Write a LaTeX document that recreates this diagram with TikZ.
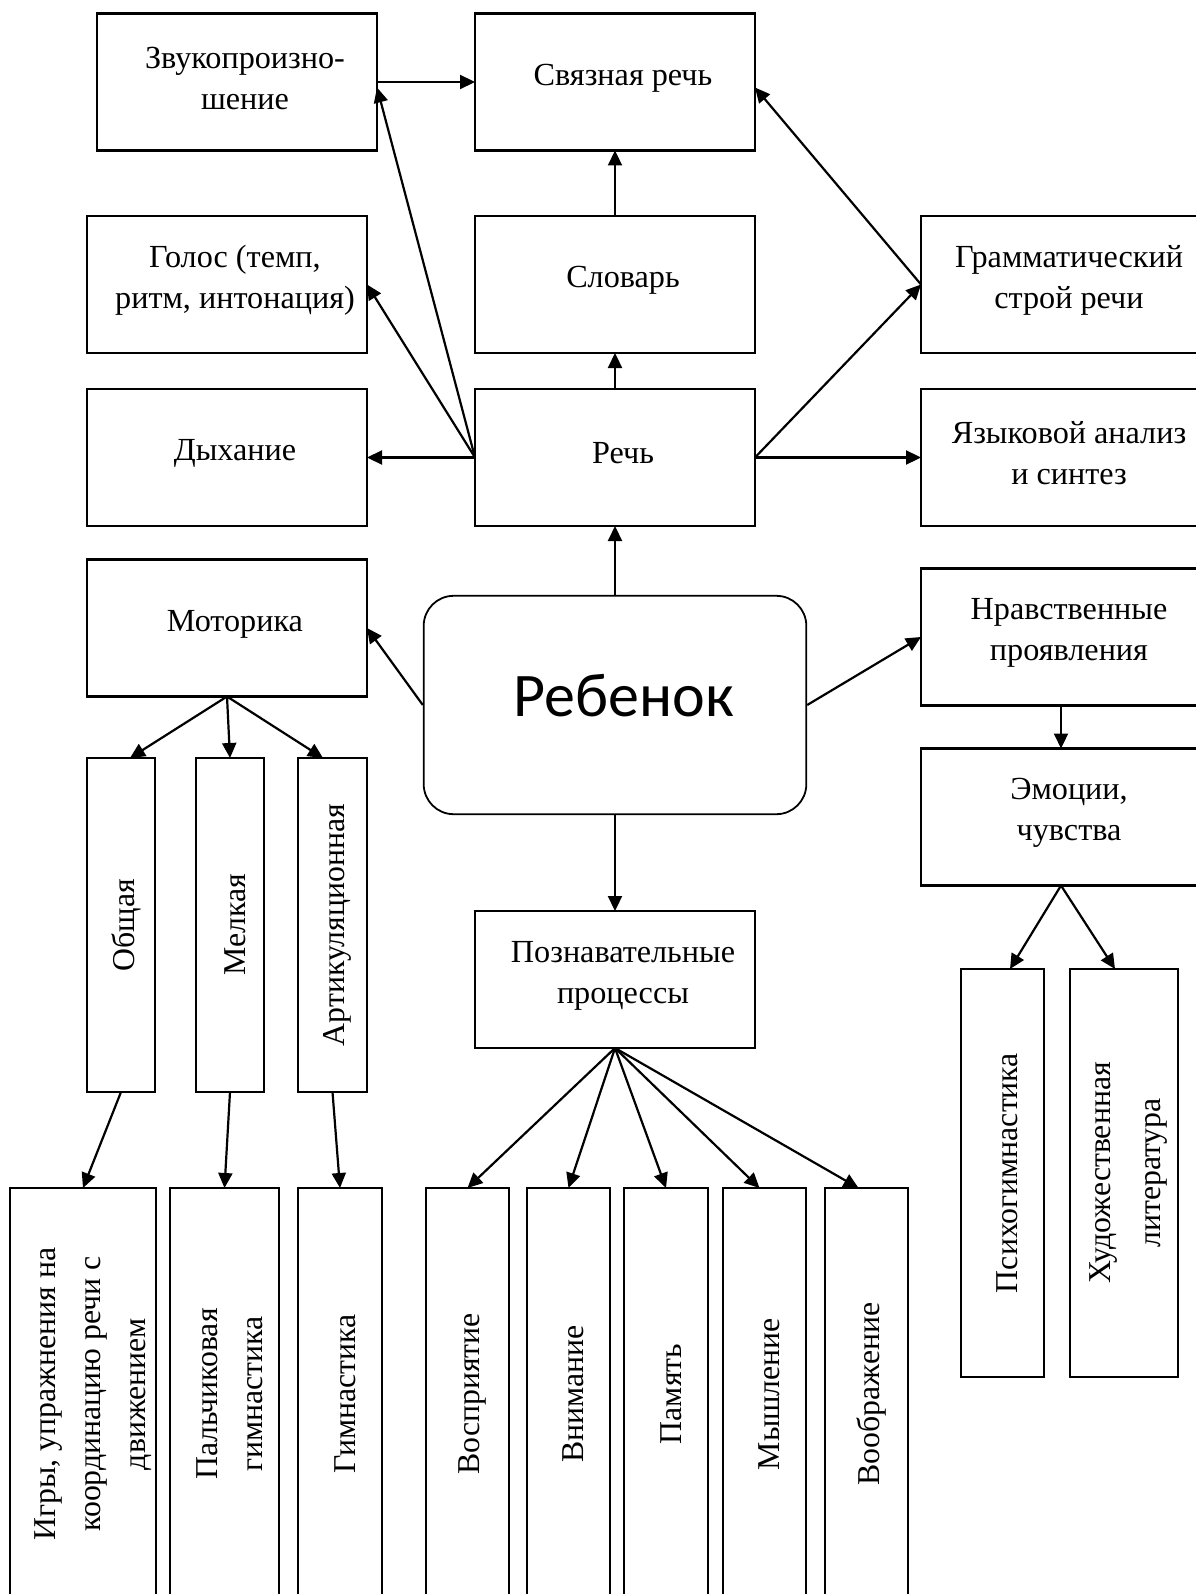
\documentclass[tikz,border=0pt]{standalone}
\usepackage{fontspec}
\setmainfont{Liberation Serif}
\newfontfamily\calibfont{Carlito}
\usetikzlibrary{arrows.meta}

\begin{document}
\begin{tikzpicture}[x=0.5pt,y=-0.5pt,>={Triangle[length=7.5pt,width=7pt]}]
\useasboundingbox (0,0) rectangle (1195,1594);

\tikzstyle{block}=[draw,line width=1.2pt,outer sep=0pt,minimum width=140pt,minimum height=68.5pt]
\tikzstyle{vblock}=[draw,line width=1.2pt,outer sep=0pt,inner sep=0pt]
\tikzstyle{txt}=[align=center,font=\fontsize{16.1}{20.5}\selectfont,xshift=4pt,yshift=2pt]
\tikzstyle{vtxt}=[align=center,font=\fontsize{15.9}{22.5}\selectfont,rotate=90,yshift=-2.5pt]
\tikzstyle{link}=[->,line width=1.1pt]

   %speech branch
    \node (zvuk) [block,label={[txt]center:Звукопроизно-\\шение}] at (237,82) {};
    \node (svyaz) [block,label={[txt]center:Связная речь}] at (615,82) {};
    \node (golos) [block,label={[txt]center:Голос (темп,\\ритм, интонация)}] at (227,284.5) {};
    \node (slovar) [block,label={[txt]center:Словарь}] at (615,284.5) {};
    \node (gramm) [block,label={[txt]center:Грамматический\\строй речи}] at (1061,284.5) {};
    \node (dyh) [block,label={[txt]center:Дыхание}] at (227,457.5) {};
    \node (rech) [block,label={[txt]center:Речь}] at (615,457.5) {};
    \node (yaz) [block,label={[txt]center:Языковой анализ\\и синтез}] at (1061,457.5) {};

   %child
    \node (reb) [draw,line width=0.9pt,rounded corners=15pt,minimum width=191.3pt,minimum height=109.2pt,label={[font=\calibfont\fontsize{31}{37}\selectfont,xshift=4.5pt,yshift=4.5pt]center:Ребенок}] at (615,705) {};

    \node (motor) [block,label={[txt]center:Моторика}] at (227,628) {};
    \node (nrav) [block,label={[txt]center:Нравственные\\проявления}] at (1061,637) {};
    \node (emo) [block,label={[txt]center:Эмоции,\\чувства}] at (1061,817) {};
    \node (pozn) [block,label={[txt]center:Познавательные\\процессы}] at (615,979.5) {};

   %motor skills
    \node (obsh) [vblock,minimum width=34pt,minimum height=167pt,label={[vtxt]center:Общая}] at (121,925) {};
    \node (melk) [vblock,minimum width=34pt,minimum height=167pt,label={[vtxt]center:Мелкая}] at (230,925) {};
    \node (artik) [vblock,minimum width=34.5pt,minimum height=167pt,label={[vtxt]center:Артикуляционная}] at (332.5,925) {};

    \node (igry) [vblock,minimum width=73pt,minimum height=206pt,label={[vtxt,yshift=-2.5pt]center:Игры, упражнения на\\координацию речи с\\движением}] at (83,1394) {};
    \node (palch) [vblock,minimum width=54.5pt,minimum height=206pt,label={[vtxt]center:Пальчиковая\\гимнастика}] at (224.5,1394) {};
    \node (gimn) [vblock,minimum width=41.75pt,minimum height=206pt,label={[vtxt]center:Гимнастика}] at (340,1394) {};

   %cognitive processes
    \node (vospr) [vblock,minimum width=41.5pt,minimum height=206pt,label={[vtxt]center:Восприятие}] at (467.5,1394) {};
    \node (vnim) [vblock,minimum width=41.5pt,minimum height=206pt,label={[vtxt]center:Внимание}] at (568.5,1394) {};
    \node (pam) [vblock,minimum width=41.75pt,minimum height=206pt,label={[vtxt]center:Память}] at (666,1394) {};
    \node (mysh) [vblock,minimum width=41.5pt,minimum height=206pt,label={[vtxt]center:Мышление}] at (764.5,1394) {};
    \node (voobr) [vblock,minimum width=41.5pt,minimum height=206pt,label={[vtxt]center:Воображение}] at (866.5,1394) {};

   %emotions
    \node (psih) [vblock,minimum width=41.5pt,minimum height=204pt,label={[vtxt]center:Психогимнастика}] at (1002.5,1173) {};
    \node (hud) [vblock,minimum width=54pt,minimum height=204pt,label={[vtxt,font=\fontsize{15.9}{25}\selectfont]center:Художественная\\литература}] at (1124,1173) {};

   %arrows
    \draw[link] (zvuk.east) -- (svyaz.west);
    \draw[link] (rech.west) -- (dyh.east);
    \draw[link] (rech.west) -- (golos.east);
    \draw[link] (rech.west) -- ([yshift=-2.75pt]zvuk.east);
    \draw[link] (rech.north) -- (slovar.south);
    \draw[link] (slovar.north) -- (svyaz.south);
    \draw[link] (rech.east) -- (gramm.west);
    \draw[link] (rech.east) -- (yaz.west);
    \draw[link] (gramm.west) -- ([yshift=-2.75pt]svyaz.east);

    \draw[link] (reb.north) -- (rech.south);
    \draw[link] (reb.south) -- (pozn.north);
    \draw[link] (reb.west) -- (motor.east);
    \draw[link] (reb.east) -- (nrav.west);
    \draw[link] (nrav.south) -- (emo.north);

    \draw[link] (motor.south) -- ([xshift=4.5pt]obsh.north);
    \draw[link] (motor.south) -- (melk.north);
    \draw[link] (motor.south) -- ([xshift=-4.75pt]artik.north);
    \draw[link] (obsh.south) -- (igry.north);
    \draw[link] (melk.south) -- (palch.north);
    \draw[link] (artik.south) -- (gimn.north);

    \draw[link] (pozn.south) -- (vospr.north);
    \draw[link] (pozn.south) -- (vnim.north);
    \draw[link] (pozn.south) -- (pam.north);
    \draw[link] (pozn.south) -- ([xshift=-2.5pt]mysh.north);
    \draw[link] (pozn.south) -- ([xshift=-4pt]voobr.north);

    \draw[link] (emo.south) -- ([xshift=3.75pt]psih.north);
    \draw[link] (emo.south) -- ([xshift=-4.5pt]hud.north);
\end{tikzpicture}
\end{document}
